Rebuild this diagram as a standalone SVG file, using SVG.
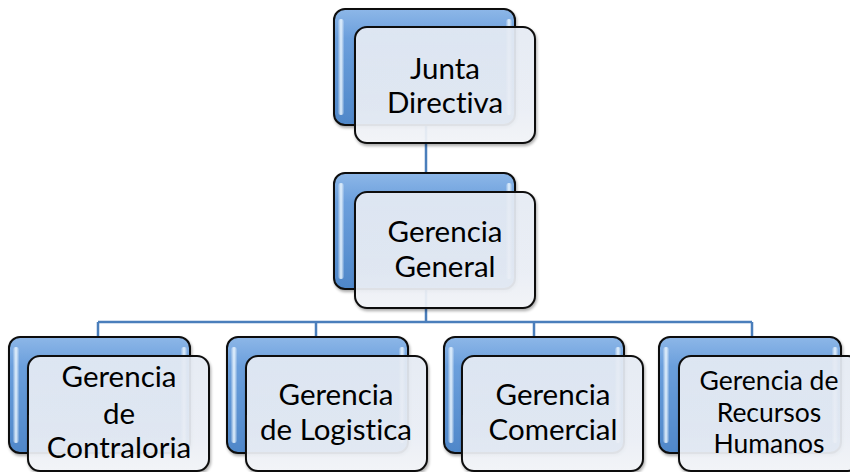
<svg xmlns="http://www.w3.org/2000/svg" width="850" height="472" viewBox="0 0 850 472">
<defs>
<linearGradient id="blue" x1="0" y1="0" x2="0" y2="1">
<stop offset="0" stop-color="#8db7e8"/>
<stop offset="0.25" stop-color="#6b9fdc"/>
<stop offset="1" stop-color="#4f87c9"/>
</linearGradient>
<linearGradient id="hl" x1="0" y1="0" x2="1" y2="0">
<stop offset="0" stop-color="#ffffff" stop-opacity="0.1"/>
<stop offset="0.5" stop-color="#e6f4ff" stop-opacity="0.95"/>
<stop offset="1" stop-color="#ffffff" stop-opacity="0.1"/>
</linearGradient>
<linearGradient id="front" x1="0" y1="0" x2="0" y2="1">
<stop offset="0" stop-color="#e8eef7"/>
<stop offset="0.7" stop-color="#edf1f8"/>
<stop offset="1" stop-color="#f5f7fb"/>
</linearGradient>
<filter id="sh" x="-10%" y="-10%" width="130%" height="130%">
<feGaussianBlur in="SourceAlpha" stdDeviation="1.5"/>
<feOffset dx="1" dy="2" result="b"/>
<feComponentTransfer><feFuncA type="linear" slope="0.35"/></feComponentTransfer>
<feMerge><feMergeNode/><feMergeNode in="SourceGraphic"/></feMerge>
</filter>
</defs>
<style>
.back{fill:url(#blue);stroke:#111;stroke-width:2}
.hl{fill:url(#hl)}
.front{fill:url(#front);fill-opacity:0.9;stroke:#111;stroke-width:2}
.conn{stroke:#4a7ebb;stroke-width:2.5;fill:none}
text{font-family:Lato,"Liberation Sans",sans-serif;font-size:29.5px;fill:#000;text-anchor:middle;font-variant-ligatures:none}
.sm{font-size:26.5px}
</style>
<g id="connectors">
<path class="conn" d="M426 125V173M426 289V322M98 322H752M98 322V337M316 322V337M534 322V337M752 322V337"/>
</g>
<g id="n-junta" transform="translate(334,9)">
<rect class="back" x="0" y="0" width="181" height="116" rx="11" filter="url(#sh)"/>
<rect class="hl" x="4" y="10" width="6" height="96" rx="3"/>
<rect class="hl" x="172" y="10" width="6" height="96" rx="3"/>
<rect class="front" x="21" y="18" width="180" height="116" rx="12" filter="url(#sh)"/>
<text x="111" y="70">Junta</text>
<text x="111" y="104">Directiva</text>
</g>
<g id="n-general" transform="translate(334,173)">
<rect class="back" x="0" y="0" width="181" height="116" rx="11" filter="url(#sh)"/>
<rect class="hl" x="4" y="10" width="6" height="96" rx="3"/>
<rect class="hl" x="172" y="10" width="6" height="96" rx="3"/>
<rect class="front" x="21" y="19" width="180" height="116" rx="12" filter="url(#sh)"/>
<text x="111" y="69">Gerencia</text>
<text x="111" y="104">General</text>
</g>
<g id="n-contraloria" transform="translate(9,337)">
<rect class="back" x="0" y="0" width="181" height="116" rx="11" filter="url(#sh)"/>
<rect class="hl" x="4" y="10" width="6" height="96" rx="3"/>
<rect class="hl" x="172" y="10" width="6" height="96" rx="3"/>
<rect class="front" x="19" y="19" width="181" height="115" rx="12" filter="url(#sh)"/>
<text x="110" y="50">Gerencia</text>
<text x="110" y="87">de</text>
<text x="110" y="121">Contraloria</text>
</g>
<g id="n-logistica" transform="translate(227,337)">
<rect class="back" x="0" y="0" width="181" height="116" rx="11" filter="url(#sh)"/>
<rect class="hl" x="4" y="10" width="6" height="96" rx="3"/>
<rect class="hl" x="172" y="10" width="6" height="96" rx="3"/>
<rect class="front" x="19" y="19" width="181" height="115" rx="12" filter="url(#sh)"/>
<text x="109" y="68">Gerencia</text>
<text x="109" y="103">de Logistica</text>
</g>
<g id="n-comercial" transform="translate(444,337)">
<rect class="back" x="0" y="0" width="180" height="116" rx="11" filter="url(#sh)"/>
<rect class="hl" x="4" y="10" width="6" height="96" rx="3"/>
<rect class="hl" x="171" y="10" width="6" height="96" rx="3"/>
<rect class="front" x="18" y="19" width="181" height="115" rx="12" filter="url(#sh)"/>
<text x="109" y="68">Gerencia</text>
<text x="109" y="103">Comercial</text>
</g>
<g id="n-rrhh" transform="translate(659,337)">
<rect class="back" x="0" y="0" width="182" height="116" rx="11" filter="url(#sh)"/>
<rect class="hl" x="4" y="10" width="6" height="96" rx="3"/>
<rect class="hl" x="173" y="10" width="6" height="96" rx="3"/>
<rect class="front" x="20" y="19" width="181" height="115" rx="12" filter="url(#sh)"/>
<text class="sm" x="110" y="53">Gerencia de</text>
<text class="sm" x="110" y="85">Recursos</text>
<text class="sm" x="110" y="116">Humanos</text>
</g>
</svg>
